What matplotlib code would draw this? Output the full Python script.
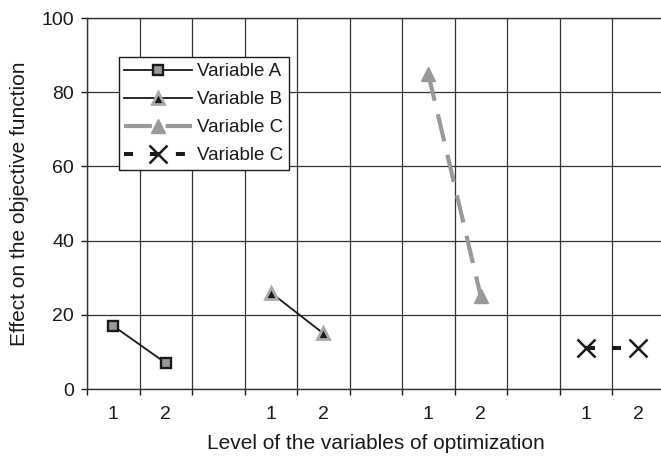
import matplotlib
matplotlib.use("Agg")
import matplotlib.pyplot as plt
import numpy as np

plt.rcParams['font.family'] = ['Liberation Sans', 'DejaVu Sans']

# category axis: levels 1 and 2 for each variable, with a spacer slot between groups
categories = ['1', '2', '', '1', '2', '', '1', '2', '', '1', '2']

var_a_idx = [0, 1]
var_a = [17, 7]
var_b_idx = [3, 4]
var_b = [26, 15]
var_c_idx = [6, 7]
var_c = [85, 25]
var_d_idx = [9, 10]
var_d = [11, 11]

y_ticks = [0, 20, 40, 60, 80, 100]

fig = plt.figure(figsize=(6.61, 4.57), dpi=100)
# the original chart is cropped slightly at the right edge
ax = fig.add_axes([87 / 661, 68 / 457, 577.5 / 661, 371 / 457])

centers = np.arange(len(categories)) + 0.5
gray = '#999999'
ink = '#1a1a1a'

ax.plot(centers[var_a_idx], var_a, color=ink, lw=1.3, marker='s', markersize=7.5,
        markerfacecolor=gray, markeredgecolor=ink, markeredgewidth=1.7,
        label='Variable A', zorder=3)
ax.plot(centers[var_b_idx], var_b, color=ink, lw=1.3, marker='^', markersize=9,
        markerfacecolor=ink, markeredgecolor='#aaaaaa', markeredgewidth=2,
        label='Variable B', zorder=3)
ax.plot(centers[var_c_idx], var_c, color=gray, lw=3, dashes=(6.7, 3.3), marker='^',
        markersize=10, markerfacecolor=gray, markeredgecolor=gray,
        label='Variable C', zorder=3)
ax.plot(centers[var_d_idx], var_d, color=ink, lw=2.9, dashes=(2.24, 4.2), marker='x',
        markersize=13, markeredgewidth=1.8, markeredgecolor=ink,
        label='Variable C', zorder=3)

ax.set_xlim(0, len(categories))
ax.set_ylim(0, 100)
ax.set_yticks(y_ticks)

# gridlines at category boundaries, labels in the middle of each slot
ax.set_xticks(np.arange(len(categories) + 1))
ax.set_xticklabels([])
ax.set_xticks(centers, minor=True)
ax.set_xticklabels(categories, minor=True)
ax.tick_params(axis='x', which='minor', length=0, pad=12.5, labelsize=14, labelcolor=ink)
ax.tick_params(axis='x', which='major', length=4, width=1, color=ink, direction='out')
ax.tick_params(axis='y', length=4.3, width=1, color=ink, direction='out', pad=5,
               labelsize=14, labelcolor=ink)

ax.grid(True, which='major', color='#333333', lw=0.9)
ax.set_axisbelow(True)
ax.spines['right'].set_visible(False)
for side in ['left', 'bottom', 'top']:
    ax.spines[side].set_color('#333333')
    ax.spines[side].set_linewidth(1)

ax.set_xlabel('Level of the variables of optimization', fontsize=15, color=ink, labelpad=8)
ax.set_ylabel('Effect on the objective function', fontsize=15, color=ink, labelpad=9)

leg = ax.legend(loc='upper left', bbox_to_anchor=(0.055, 0.894), fontsize=13.5,
                handlelength=3.6, handletextpad=0.27, borderpad=0.3,
                labelspacing=0.58, borderaxespad=0, fancybox=False,
                framealpha=1, edgecolor=ink, labelcolor=ink)
leg.get_frame().set_linewidth(1)

fig.savefig('out.png', dpi=100, facecolor='white')
